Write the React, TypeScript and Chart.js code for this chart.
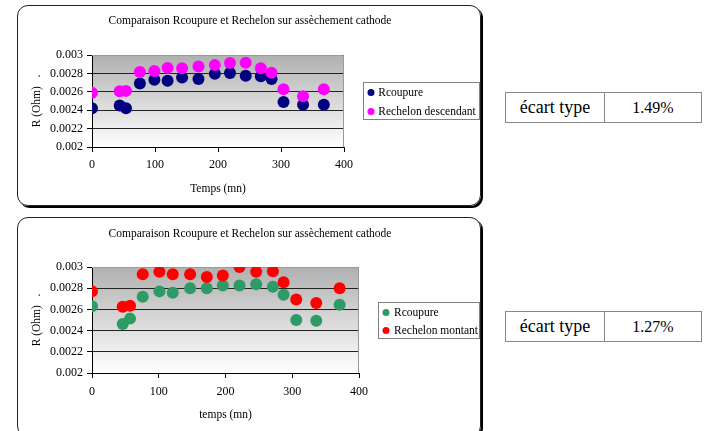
import React, { useEffect, useRef } from "react";
import { Chart, registerables } from "chart.js";

Chart.register(...registerables);

// ---------- DATA ----------
const CHART_TITLE = "Comparaison Rcoupure et Rechelon sur assèchement cathode";
const Y_TITLE = "R (Ohm)   .";

const TIME_1 = [0, 44, 54, 76, 99, 120, 143, 169, 195, 219, 244, 268, 285, 304, 335, 368];
const RCOUPURE_1 = [0.00242, 0.00245, 0.00242, 0.00269, 0.00273, 0.00272, 0.002755, 0.00274, 0.002795, 0.002805, 0.002775, 0.00277, 0.00274, 0.00249, 0.00246, 0.00246];
const RECHELON_DESC = [0.00259, 0.002605, 0.00261, 0.002815, 0.002825, 0.00286, 0.002855, 0.002875, 0.00289, 0.002912, 0.002915, 0.002855, 0.002808, 0.002628, 0.002552, 0.002628];

const TIME_2 = [0, 46, 57, 76, 101, 121, 147, 172, 196, 221, 246, 271, 287, 306, 336, 371];
const RCOUPURE_2 = [0.00263, 0.002463, 0.002513, 0.00272, 0.00277, 0.002756, 0.0028, 0.0028, 0.002825, 0.002825, 0.002838, 0.002813, 0.002738, 0.0025, 0.002494, 0.002644];
const RECHELON_MONT = [0.002772, 0.002625, 0.002634, 0.002931, 0.002956, 0.002931, 0.002931, 0.002906, 0.002919, 0.003, 0.002956, 0.002959, 0.002856, 0.002694, 0.00266, 0.0028];

const SERIES_LABELS_1 = ["Rcoupure", "Rechelon descendant"];
const SERIES_LABELS_2 = ["Rcoupure", "Rechelon montant"];
const X_TITLES = ["Temps (mn)", "temps (mn)"];

const X_MIN = 0, X_MAX = 400, X_STEP = 100;
const Y_MIN = 0.002, Y_MAX = 0.003, Y_STEP = 0.0002;

const STATS_LABEL = "écart type";
const STATS_VALUES = ["1.49%", "1.27%"];

// ---------- STYLE ----------
const SERIF = '"Liberation Serif", "Times New Roman", serif';
const SMALL = 11.5;

const decorPlugin = {
  id: "panelDecor",
  beforeDraw(chart: any) {
    const { ctx, chartArea: a } = chart;
    const g = ctx.createLinearGradient(0, a.top, 0, a.bottom);
    g.addColorStop(0, "#b0b0b0");
    g.addColorStop(1, "#ffffff");
    ctx.save();
    ctx.fillStyle = g;
    ctx.fillRect(a.left, a.top, a.right - a.left, a.bottom - a.top);
    ctx.restore();
  },
  beforeDatasetsDraw(chart: any) {
    const { ctx, chartArea: a } = chart;
    ctx.save();
    ctx.strokeStyle = "#9a9a9a";
    ctx.lineWidth = 1;
    ctx.beginPath();
    const t = Math.round(a.top) + 0.5;
    const r = Math.round(a.right) - 0.5;
    ctx.moveTo(a.left, t);
    ctx.lineTo(r, t);
    ctx.lineTo(r, a.bottom);
    ctx.stroke();
    ctx.restore();
  },
  afterDraw(chart: any, _args: any, opts: any) {
    const box = opts && opts.box;
    if (!box) return;
    const { ctx } = chart;
    ctx.save();
    ctx.strokeStyle = "#808080";
    ctx.lineWidth = 1;
    ctx.strokeRect(Math.round(box.x) + 0.5, Math.round(box.y) + 0.5, box.w, box.h);
    ctx.font = `${SMALL}px ${SERIF}`;
    ctx.textBaseline = "middle";
    ctx.textAlign = "left";
    chart.data.datasets.forEach((ds: any, i: number) => {
      const y = box.y + 10.5 + i * box.gap;
      ctx.fillStyle = ds.backgroundColor;
      ctx.beginPath();
      ctx.arc(box.x + 8, y, 3.5, 0, Math.PI * 2);
      ctx.fill();
      ctx.fillStyle = "#000";
      ctx.fillText(ds.label, box.x + box.textX, y);
    });
    ctx.restore();
  },
};

type PanelProps = {
  left: number;
  top: number;
  width: number;
  height: number;
  times: number[];
  seriesA: number[];
  seriesB: number[];
  labels: string[];
  colors: string[];
  xTitle: string;
  radius: number;
  layout: {
    areaLeft: number;
    areaRight: number;
    areaTop: number;
    areaBottom: number;
    titlePadTop: number;
    xTickPad: number;
    xTitlePadBottom: number;
    legend: { x: number; y: number; w: number; h: number; gap: number; textX: number };
  };
};

function Panel(p: PanelProps) {
  const ref = useRef<HTMLCanvasElement | null>(null);

  useEffect(() => {
    if (!ref.current) return;
    const L = p.layout;
    const titleLineH = SMALL * 1.2;
    const toPts = (ys: number[]) => p.times.map((x, i) => ({ x, y: ys[i] }));
    const chart = new Chart(ref.current, {
      type: "scatter",
      data: {
        datasets: [
          {
            label: p.labels[0],
            data: toPts(p.seriesA),
            backgroundColor: p.colors[0],
            borderColor: p.colors[0],
            pointRadius: p.radius,
            pointBorderWidth: 0,
            order: 1,
          },
          {
            label: p.labels[1],
            data: toPts(p.seriesB),
            backgroundColor: p.colors[1],
            borderColor: p.colors[1],
            pointRadius: p.radius,
            pointBorderWidth: 0,
            order: 0,
          },
        ],
      },
      plugins: [decorPlugin],
      options: {
        responsive: false,
        animation: false,
        events: [],
        layout: { padding: 0 },
        plugins: {
          legend: { display: false },
          tooltip: { enabled: false },
          title: {
            display: true,
            text: CHART_TITLE,
            color: "#000",
            font: { family: SERIF, size: SMALL, weight: "normal", lineHeight: 1.2 },
            padding: { top: L.titlePadTop, bottom: L.areaTop - L.titlePadTop - titleLineH },
          },
          panelDecor: { box: L.legend },
        } as any,
        scales: {
          x: {
            type: "linear",
            min: X_MIN,
            max: X_MAX,
            afterFit: (s: any) => {
              s.height = p.height - L.areaBottom;
            },
            ticks: {
              stepSize: X_STEP,
              color: "#000",
              padding: L.xTickPad,
              font: { family: SERIF, size: 12, lineHeight: 1.2 },
              maxRotation: 0,
              autoSkip: false,
            },
            grid: {
              drawOnChartArea: false,
              drawTicks: true,
              tickLength: 5,
              tickColor: "#000",
            },
            border: { display: true, color: "#000", width: 1 },
            title: {
              display: true,
              text: p.xTitle,
              color: "#000",
              font: { family: SERIF, size: SMALL, lineHeight: 1.2 },
              padding: { top: 0, bottom: L.xTitlePadBottom },
            },
          },
          y: {
            type: "linear",
            position: "left",
            min: Y_MIN,
            max: Y_MAX,
            afterFit: (s: any) => {
              s.width = L.areaLeft;
            },
            ticks: {
              stepSize: Y_STEP,
              color: "#000",
              padding: 4,
              autoSkip: false,
              font: { family: SERIF, size: 12, lineHeight: 1.2 },
              callback: (v: any) => String(Number(Number(v).toFixed(4))),
            },
            grid: {
              color: "#222",
              lineWidth: 1,
              drawTicks: true,
              tickLength: 5,
              tickColor: "#000",
            },
            border: { display: true, color: "#000", width: 1 },
            title: {
              display: true,
              text: Y_TITLE,
              color: "#000",
              font: { family: SERIF, size: SMALL, lineHeight: 1.2 },
              padding: { top: 13.1, bottom: 0 },
            },
          },
          spacer: {
            type: "linear",
            position: "right",
            display: true,
            afterFit: (s: any) => {
              s.width = p.width - L.areaRight;
            },
            ticks: { display: false },
            grid: { display: false, drawTicks: false },
            border: { display: false },
            title: { display: false },
          },
        },
      } as any,
    });
    return () => chart.destroy();
  }, []);

  return (
    <>
      <canvas
        ref={ref}
        width={p.width}
        height={p.height}
        style={{ position: "absolute", left: p.left, top: p.top, width: p.width, height: p.height }}
      />
      <div
        style={{
          position: "absolute",
          left: p.left,
          top: p.top,
          width: p.width - 2,
          height: p.height - 2,
          boxSizing: "border-box",
          border: "1px solid #222",
          borderRadius: 11,
          boxShadow: "2px 2px 0 #000",
          pointerEvents: "none",
        }}
      />
    </>
  );
}

function StatsTable(props: { top: number; value: string }) {
  const cell: React.CSSProperties = {
    position: "absolute",
    top: 0,
    height: "100%",
    display: "flex",
    alignItems: "center",
    justifyContent: "center",
    fontFamily: SERIF,
    color: "#000",
  };
  return (
    <div
      style={{
        position: "absolute",
        left: 505,
        top: props.top,
        width: 197,
        height: 31,
        border: "1px solid #888",
        boxSizing: "border-box",
      }}
    >
      <div style={{ ...cell, left: 0, width: 98, fontSize: 18, borderRight: "1px solid #888" }}>{STATS_LABEL}</div>
      <div style={{ ...cell, left: 99, width: 96, fontSize: 16 }}>{props.value}</div>
    </div>
  );
}

export default function App() {
  return (
    <div
      style={{
        position: "fixed",
        left: 0,
        top: 0,
        width: 704,
        height: 431,
        overflow: "hidden",
        background: "#fff",
      }}
    >
      <Panel
        left={17}
        top={5}
        width={466}
        height={203}
        times={TIME_1}
        seriesA={RCOUPURE_1}
        seriesB={RECHELON_DESC}
        labels={SERIES_LABELS_1}
        colors={["#000080", "#ff00ff"]}
        xTitle={X_TITLES[0]}
        radius={6}
        layout={{
          areaLeft: 75,
          areaRight: 327,
          areaTop: 50,
          areaBottom: 142,
          titlePadTop: 9.1,
          xTickPad: 6,
          xTitlePadBottom: 12.1,
          legend: { x: 346, y: 77, w: 116, h: 37, gap: 19, textX: 15.3 },
        }}
      />
      <Panel
        left={17}
        top={217}
        width={466}
        height={222}
        times={TIME_2}
        seriesA={RCOUPURE_2}
        seriesB={RECHELON_MONT}
        labels={SERIES_LABELS_2}
        colors={["#2e9a66", "#ff0000"]}
        xTitle={X_TITLES[1]}
        radius={6}
        layout={{
          areaLeft: 75,
          areaRight: 342,
          areaTop: 50,
          areaBottom: 156,
          titlePadTop: 10.1,
          xTickPad: 7,
          xTitlePadBottom: 17.1,
          legend: { x: 361, y: 85, w: 101, h: 36, gap: 18, textX: 16 },
        }}
      />
      <StatsTable top={92} value={STATS_VALUES[0]} />
      <StatsTable top={311} value={STATS_VALUES[1]} />
    </div>
  );
}
